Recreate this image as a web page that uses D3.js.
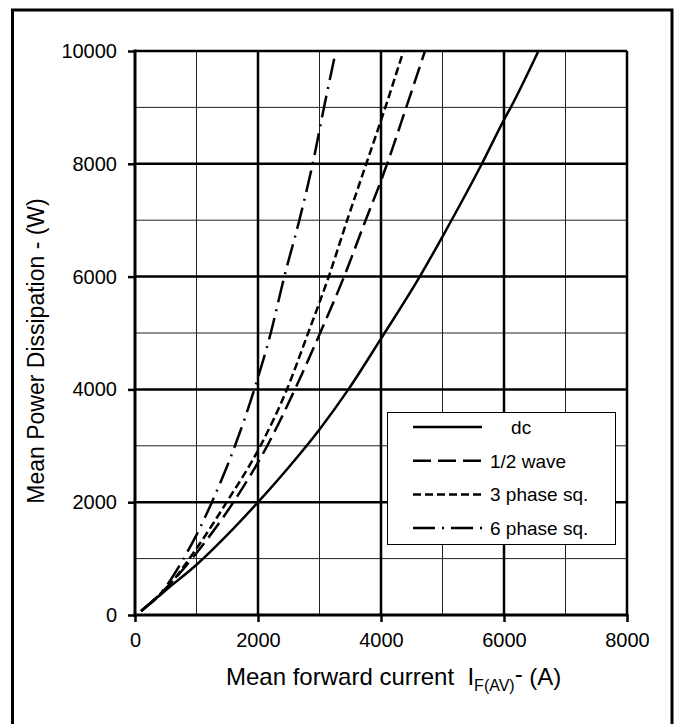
<!DOCTYPE html>
<html>
<head>
<meta charset="utf-8">
<script src="https://cdn.jsdelivr.net/npm/d3@7"></script>
<style>
  body { margin: 0; background: #fff; }
  svg text { font-family: Arial, "Liberation Sans", sans-serif; fill: #000; white-space: pre; }
</style>
</head>
<body>
<script>
// Axis ticks (major every 2000, minor grid every 1000).
const xTicks = [0, 2000, 4000, 6000, 8000];
const yTicks = [0, 2000, 4000, 6000, 8000, 10000];
const xMinor = [1000, 3000, 5000, 7000];
const yMinor = [1000, 3000, 5000, 7000, 9000];

// Curves: [mean forward current (A), mean power dissipation (W)].
const dcPoints = [[100, 70], [500, 440], [1000, 890], [1500, 1420], [2000, 2000], [2500, 2620],
  [3000, 3290], [3470, 4000], [4000, 4900], [4630, 6000], [5000, 6710], [5640, 8000],
  [6000, 8780], [6110, 9000], [6560, 10000]];
const halfWavePoints = [[100, 70], [500, 470], [1000, 1100], [1600, 2000], [2150, 3000],
  [2600, 4000], [3010, 5000], [3400, 6000], [3750, 7000], [4000, 7700], [4100, 8000],
  [4410, 9000], [4715, 10000]];
const threePhasePoints = [[100, 70], [500, 460], [1000, 1180], [1490, 2000], [2040, 3000],
  [2470, 4000], [2815, 5000], [3150, 6000], [3450, 7000], [3760, 8000], [4040, 8900],
  [4365, 10000]];
const sixPhasePoints = [[100, 70], [500, 500], [790, 1000], [1000, 1420], [1250, 2000],
  [1626, 3000], [1940, 4000], [2207, 5000], [2428, 6000], [2672, 7000], [2889, 8000],
  [3073, 9000], [3266, 10000]];

const seriesNames = ["    dc", "1/2 wave", "3 phase sq.", "6 phase sq."];
const seriesData = [dcPoints, halfWavePoints, threePhasePoints, sixPhasePoints];
const seriesDash = [null, "18,7", "8,4", "22,7,2,7"];

const width = 675;
const height = 724;

// Create the SVG container.
const svg = d3.select("body").append("svg")
  .attr("width", width)
  .attr("height", height);

// Outer frame (bottom edge runs off the page like the original).
svg.append("rect")
  .attr("x", 12.5).attr("y", 10)
  .attr("width", 659.5).attr("height", 740)
  .attr("fill", "none")
  .attr("stroke", "#000")
  .attr("stroke-width", 3);

// Scales.
const x = d3.scaleLinear().domain([0, 8000]).range([135, 627]);
const y = d3.scaleLinear().domain([0, 10000]).range([615, 51]);

const g = svg.append("g");

// Minor grid lines.
g.selectAll(".vminor").data(xMinor).enter().append("line")
  .attr("x1", d => x(d)).attr("x2", d => x(d))
  .attr("y1", y(0)).attr("y2", y(10000))
  .attr("stroke", "#222").attr("stroke-width", 1);
g.selectAll(".hminor").data(yMinor).enter().append("line")
  .attr("y1", d => y(d)).attr("y2", d => y(d))
  .attr("x1", x(0)).attr("x2", x(8000))
  .attr("stroke", "#222").attr("stroke-width", 1);

// Major grid lines.
g.selectAll(".vmajor").data(xTicks.slice(1)).enter().append("line")
  .attr("x1", d => x(d)).attr("x2", d => x(d))
  .attr("y1", y(0)).attr("y2", y(10000))
  .attr("stroke", "#000").attr("stroke-width", 2.5);
g.selectAll(".hmajor").data(yTicks.slice(1)).enter().append("line")
  .attr("y1", d => y(d)).attr("y2", d => y(d))
  .attr("x1", x(0)).attr("x2", x(8000))
  .attr("stroke", "#000").attr("stroke-width", 2.5);

// Axes with outward ticks.
const xAxis = d3.axisBottom(x).tickValues(xTicks).tickSize(7).tickPadding(11).tickFormat(d3.format("d"));
const yAxis = d3.axisLeft(y).tickValues(yTicks).tickSize(7).tickPadding(11).tickFormat(d3.format("d"));

const gx = svg.append("g").attr("transform", `translate(0,${y(0)})`).call(xAxis);
const gy = svg.append("g").attr("transform", `translate(${x(0)},0)`).call(yAxis);

[gx, gy].forEach(a => {
  a.select(".domain").remove();
  a.selectAll(".tick line").attr("stroke", "#000").attr("stroke-width", 2.5);
  a.selectAll(".tick text").style("font-size", "20px").attr("fill", "#000");
});

// Axis lines drawn thick.
svg.append("line").attr("x1", x(0)).attr("x2", x(0)).attr("y1", y(0) + 1.5).attr("y2", y(10000) - 1.5)
  .attr("stroke", "#000").attr("stroke-width", 3);
svg.append("line").attr("x1", x(0) - 1.5).attr("x2", x(8000) + 1.5).attr("y1", y(0)).attr("y2", y(0))
  .attr("stroke", "#000").attr("stroke-width", 3);

// Curves.
const line = d3.line()
  .x(d => x(d[0]))
  .y(d => y(d[1]))
  .curve(d3.curveMonotoneX);

svg.selectAll(".curve").data(seriesData).enter().append("path")
  .attr("class", "curve")
  .attr("d", line)
  .attr("fill", "none")
  .attr("stroke", "#000")
  .attr("stroke-width", 2.5)
  .attr("stroke-dasharray", (d, i) => seriesDash[i]);

// Legend.
const legend = svg.append("g");
legend.append("rect")
  .attr("x", 387.5).attr("y", 412.5)
  .attr("width", 228).attr("height", 132)
  .attr("fill", "#fff").attr("stroke", "#000").attr("stroke-width", 1);

const rows = legend.selectAll(".row").data(seriesNames).enter().append("g")
  .attr("transform", (d, i) => `translate(0,${427 + i * 33.7})`);
rows.append("line")
  .attr("x1", 413).attr("x2", 482)
  .attr("stroke", "#000").attr("stroke-width", 2.5)
  .attr("stroke-dasharray", (d, i) => seriesDash[i]);
rows.append("text")
  .attr("x", 490).attr("y", 7)
  .style("font-size", "19px")
  .text(d => d);

// Axis titles.
const xTitle = svg.append("text").attr("x", 226).attr("y", 685).style("font-size", "24px");
xTitle.append("tspan").text("Mean forward current  I");
xTitle.append("tspan").attr("dy", 6).style("font-size", "16px").text("F(AV)");
xTitle.append("tspan").attr("dy", -9).text("-");
xTitle.append("tspan").attr("dy", 3).text(" (A)");

svg.append("text")
  .attr("transform", "translate(44,351) rotate(-90)")
  .attr("text-anchor", "middle")
  .style("font-size", "23px")
  .text("Mean Power Dissipation - (W)");
</script>
</body>
</html>
